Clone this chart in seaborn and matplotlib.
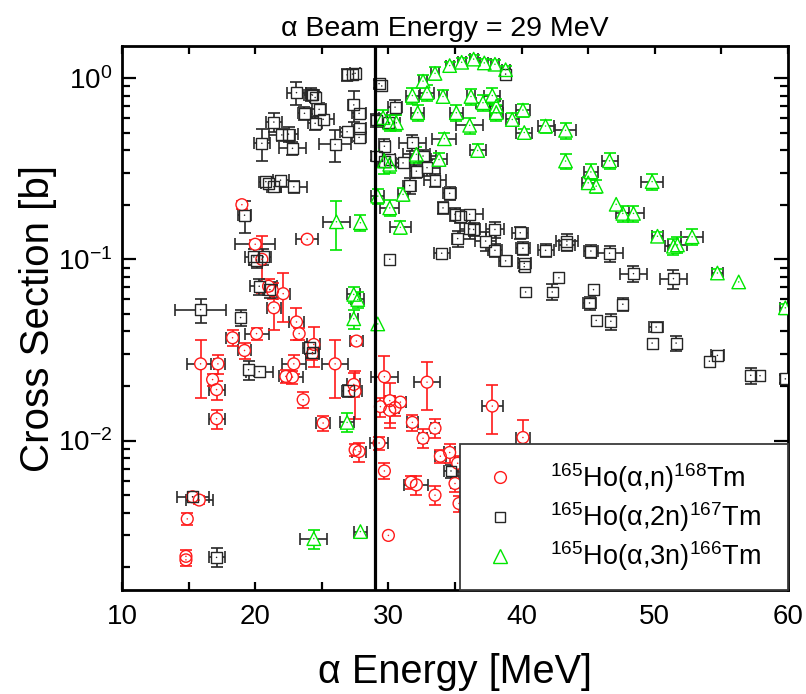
import numpy as np
import pandas as pd
import matplotlib
matplotlib.use("Agg")
import matplotlib.pyplot as plt
import seaborn as sns
from matplotlib.lines import Line2D
from matplotlib.ticker import LogLocator, MultipleLocator, NullFormatter

# ---- 165Ho(alpha,n)168Tm ----
an_energy = [14.8, 14.8, 14.9, 15.3, 15.8, 15.9, 16.8, 17.1, 17.1, 17.2,
             18.3, 19.0, 19.2, 20.0, 20.1, 20.5, 21.0, 21.3, 21.4, 22.1,
             22.3, 22.8, 22.9, 23.1, 23.3, 23.6, 23.9, 24.3, 24.4, 25.1,
             26.0, 27.4, 27.5, 27.5, 27.6, 27.8, 29.3, 29.4, 29.7, 29.7,
             30.0, 30.1, 30.1, 30.5, 30.9, 31.7, 31.8, 32.1, 32.6, 32.9,
             33.5, 33.5, 33.9, 34.6, 35.0, 35.2, 35.3, 35.8, 37.8, 40.1]
an_xs = [0.0023, 0.0022, 0.0037, 0.0049, 0.0047, 0.0265, 0.0217, 0.0191, 0.0132, 0.0265,
         0.0369, 0.20, 0.0314, 0.121, 0.0389, 0.100, 0.071, 0.067, 0.054, 0.0646,
         0.0226, 0.0224, 0.0265, 0.0451, 0.0389, 0.0168, 0.129, 0.0301, 0.0339, 0.0125,
         0.0265, 0.0204, 0.0187, 0.0089, 0.0354, 0.0087, 0.0097, 0.0154, 0.0225, 0.0068,
         0.0030, 0.0166, 0.0147, 0.0152, 0.0163, 0.0059, 0.0126, 0.0057, 0.0103, 0.0210,
         0.0117, 0.0050, 0.0082, 0.0086, 0.0058, 0.0075, 0.0045, 0.0046, 0.0155, 0.0104]
an_d_energy = [0, 0, 0, 0, 1.0, 1.0, 0, 0.6, 0.6, 0.5,
               0.5, 0, 0.5, 1.5, 0.9, 0, 0.6, 0, 0.5, 0.5,
               0.5, 0.8, 0.9, 0.6, 0, 0, 0.8, 0.5, 0.5, 0.5,
               1.0, 0.5, 0.5, 0, 0.5, 0.5, 0.7, 0.3, 1.0, 0,
               0, 0.3, 0, 0.3, 0.4, 0, 0.4, 0.9, 0.3, 1.0,
               0.3, 0, 0.4, 0.4, 0.3, 0, 0, 0, 0.8, 0.5]
an_rel_err = [0.08, 0.08, 0.08, 0.05, 0.05, 0.35, 0.08, 0.12, 0.12, 0.12,
              0.10, 0.05, 0.10, 0.05, 0.08, 0.35, 0.10, 0.10, 0.25, 0.30,
              0.08, 0.08, 0.12, 0.20, 0.08, 0.10, 0.03, 0.08, 0.25, 0.10,
              0.35, 0.15, 0.30, 0.08, 0.05, 0.12, 0.08, 0.12, 0.30, 0.10,
              0, 0.25, 0.20, 0.10, 0.05, 0.08, 0.10, 0.12, 0.12, 0.30,
              0.12, 0.12, 0.08, 0.12, 0.10, 0.10, 0.10, 0.10, 0.30, 0.25]

# ---- 165Ho(alpha,2n)167Tm ----
a2n_energy = [15.3, 15.9, 17.1, 18.9, 19.2, 19.5, 19.9, 20.1, 20.3, 20.3,
              20.5, 20.6, 20.8, 21.0, 21.1, 21.4, 21.4, 21.9, 22.0, 22.5,
              22.8, 22.9, 23.1, 23.7, 24.1, 24.2, 24.3, 24.3, 24.5, 24.5,
              24.8, 25.1, 26.0, 26.9, 26.9, 27.0, 27.3, 27.4, 27.5, 27.8,
              27.8, 27.8, 29.1, 29.1, 29.3, 29.5, 29.7, 29.7, 30.0, 30.1,
              30.1, 30.5, 31.1, 31.6, 31.8, 32.1, 32.6, 32.9, 33.5, 34.0,
              34.1, 34.6, 34.7, 35.0, 35.2, 35.4, 36.1, 36.1, 36.4, 37.3,
              38.0, 38.0, 38.8, 38.8, 39.9, 40.1, 40.2, 40.2, 40.3, 41.8,
              42.3, 42.8, 43.4, 43.4, 45.1, 45.2, 45.4, 45.6, 46.6, 46.7,
              47.6, 48.4, 49.8, 50.1, 51.4, 51.6, 54.1, 54.7, 57.2, 57.9,
              59.8]
a2n_xs = [0.0049, 0.0527, 0.00227, 0.0477, 0.175, 0.0246, 0.103, 0.099, 0.024, 0.071,
          0.436, 0.103, 0.268, 0.262, 0.068, 0.571, 0.251, 0.273, 0.485, 0.49,
          0.409, 0.251, 0.83, 0.638, 0.0325, 0.81, 0.805, 0.0306, 0.78, 0.562,
          0.671, 0.591, 0.43, 0.505, 1.04, 0.0188, 1.05, 0.71, 1.06, 0.638,
          0.527, 0.47, 0.586, 0.371, 0.93, 0.903, 0.42, 0.348, 0.566, 0.10,
          0.357, 0.69, 0.34, 0.255, 0.44, 0.306, 0.371, 0.32, 0.273, 0.108,
          0.192, 0.231, 0.0068, 0.177, 0.13, 0.173, 0.177, 0.147, 0.146, 0.126,
          0.146, 0.112, 0.098, 1.05, 0.14, 0.115, 0.095, 0.091, 0.066, 0.112,
          0.066, 0.079, 0.126, 0.12, 0.0574, 0.111, 0.068, 0.046, 0.108, 0.0455,
          0.0565, 0.0833, 0.0345, 0.0423, 0.0782, 0.0345, 0.0274, 0.0295, 0.0229, 0.0228,
          0.0219]
a2n_d_energy = [1.2, 1.9, 0.6, 0, 0.5, 0.3, 0.7, 0.6, 1.0, 0.7,
                0.6, 0.6, 0.5, 0.6, 0.5, 0.6, 0.5, 0.6, 1.0, 0.7,
                1.0, 1.0, 0.7, 0.5, 0.5, 0.5, 0.5, 0.5, 0.4, 0.5,
                0.5, 0.8, 1.2, 0.5, 0.4, 0.5, 0.4, 0.4, 0.4, 0.5,
                0.5, 0.5, 0.4, 0.4, 0.4, 0.4, 0.4, 0.5, 0.4, 0,
                0.4, 0.5, 0.5, 0.5, 1.0, 0.5, 1.0, 1.0, 0.8, 0.6,
                0.4, 0.5, 0.5, 0.4, 0.4, 0.5, 1.0, 0.7, 0.5, 0.8,
                0.7, 0.5, 0.5, 0.3, 0.6, 0.5, 0.5, 0.3, 0, 0.6,
                0, 0, 0.8, 0.6, 0.5, 0.5, 0, 0, 1.0, 0,
                0, 1.0, 0, 0.5, 1.0, 0, 0, 0.5, 0, 0,
                0.4]
a2n_rel_err = [0.05, 0.15, 0.12, 0.10, 0.20, 0.12, 0.10, 0.10, 0.05, 0.10,
               0.20, 0.10, 0.05, 0.05, 0.10, 0.12, 0.05, 0.05, 0.08, 0.10,
               0.08, 0.08, 0.15, 0.08, 0.08, 0.08, 0.05, 0.05, 0.05, 0.08,
               0.08, 0.05, 0.20, 0.05, 0.08, 0.08, 0.05, 0.20, 0.05, 0.05,
               0.05, 0.05, 0.08, 0.05, 0.05, 0.05, 0.10, 0.05, 0.05, 0,
               0.05, 0.10, 0.05, 0.10, 0.10, 0.08, 0.08, 0.10, 0.08, 0.05,
               0.08, 0.08, 0.08, 0.08, 0.10, 0.08, 0.05, 0.12, 0.08, 0.12,
               0.10, 0.08, 0.05, 0.05, 0.08, 0.08, 0.05, 0.05, 0, 0.08,
               0.10, 0.06, 0.10, 0.08, 0.08, 0.08, 0.06, 0, 0.10, 0.10,
               0.08, 0.10, 0, 0.06, 0.12, 0.10, 0, 0.05, 0.10, 0,
               0.05]

# ---- 165Ho(alpha,3n)166Tm ----
a3n_energy = [24.4, 26.1, 26.9, 27.4, 27.4, 27.7, 27.9, 27.9, 29.2, 29.2,
              29.6, 29.7, 30.1, 30.1, 30.1, 30.6, 30.9, 31.1, 31.8, 32.1,
              32.2, 32.6, 32.9, 33.5, 33.8, 34.1, 34.2, 34.6, 35.1, 35.5,
              36.1, 36.2, 36.4, 36.7, 37.1, 37.2, 37.8, 38.0, 38.1, 38.1,
              38.8, 39.3, 40.1, 40.2, 41.8, 43.3, 43.3, 45.0, 45.2, 45.6,
              46.6, 47.1, 47.6, 48.4, 49.8, 50.2, 51.4, 51.7, 52.8, 54.7,
              56.3, 59.8]
a3n_xs = [0.00288, 0.161, 0.0126, 0.047, 0.064, 0.060, 0.159, 0.00315, 0.044, 0.223,
          0.604, 0.348, 0.566, 0.334, 0.192, 0.566, 0.15, 0.228, 0.80, 0.379,
          0.643, 0.96, 0.83, 1.06, 0.355, 0.79, 0.462, 1.17, 0.643, 1.22,
          0.548, 0.79, 1.27, 0.398, 0.73, 1.21, 0.80, 1.19, 0.70, 0.643,
          1.11, 0.59, 0.665, 0.50, 0.543, 0.514, 0.348, 0.264, 0.303, 0.253,
          0.349, 0.201, 0.179, 0.179, 0.268, 0.134, 0.118, 0.12, 0.133, 0.084,
          0.075, 0.054]
a3n_d_energy = [1.0, 1.0, 0.5, 0.3, 0.5, 0.5, 0, 0.5, 0, 0.5,
                0.3, 0.4, 0.4, 0.4, 0.7, 0.3, 0.8, 0.4, 0.5, 1.0,
                0.5, 0.3, 0.5, 0.3, 0.6, 0.3, 0.9, 0.3, 0.5, 0.3,
                1.0, 0.3, 0.3, 0.6, 0.5, 0.3, 0.6, 0.3, 0.5, 0.5,
                0.3, 0.5, 0.5, 0.6, 0.6, 0.8, 0, 0.5, 0.5, 0,
                0.6, 0, 0.5, 0.8, 0.8, 0.4, 0.6, 0.7, 0.8, 0.4,
                0, 0.4]
a3n_rel_err = [0.12, 0.30, 0.12, 0.12, 0.10, 0.10, 0.10, 0, 0, 0.10,
               0.10, 0.15, 0.10, 0.10, 0.10, 0.10, 0.08, 0.08, 0.10, 0.10,
               0.10, 0.08, 0.10, 0.08, 0.08, 0.08, 0.08, 0.05, 0.10, 0.05,
               0.10, 0.10, 0.05, 0.08, 0.10, 0.05, 0.10, 0.05, 0.10, 0.10,
               0.05, 0.08, 0.08, 0.05, 0.08, 0.10, 0.10, 0.08, 0.10, 0.08,
               0.10, 0, 0.10, 0.10, 0.10, 0.05, 0.10, 0.10, 0.10, 0.05,
               0, 0.05]

reaction_labels = [r"$^{165}$Ho(α,n)$^{168}$Tm",
                   r"$^{165}$Ho(α,2n)$^{167}$Tm",
                   r"$^{165}$Ho(α,3n)$^{166}$Tm"]
beam_energy = 29.0

sns.set_theme(style="ticks")
plt.rcParams["font.family"] = ["Liberation Sans", "DejaVu Sans"]
plt.rcParams["mathtext.fontset"] = "custom"
plt.rcParams["mathtext.rm"] = "Liberation Sans"
plt.rcParams["mathtext.it"] = "Liberation Sans"
plt.rcParams["mathtext.default"] = "regular"
for key in ("text.color", "axes.labelcolor", "xtick.color", "ytick.color",
            "xtick.labelcolor", "ytick.labelcolor"):
    plt.rcParams[key] = "black"

series = [
    dict(E=an_energy, xs=an_xs, dE=an_d_energy, rel=an_rel_err,
         color="#ff1a1a", marker="o", s=72, label=reaction_labels[0]),
    dict(E=a2n_energy, xs=a2n_xs, dE=a2n_d_energy, rel=a2n_rel_err,
         color="#262626", marker="s", s=62, label=reaction_labels[1]),
    dict(E=a3n_energy, xs=a3n_xs, dE=a3n_d_energy, rel=a3n_rel_err,
         color="#00e600", marker="^", s=95, label=reaction_labels[2]),
]

fig = plt.figure(figsize=(8.06, 6.94), dpi=100)
ax = fig.add_axes([122 / 806, 1 - 590 / 694, 666 / 806, 544 / 694])
ax.set_xscale("linear")
ax.set_yscale("log")

bar_kw = dict(fmt="none", elinewidth=1.2, capsize=4, capthick=1.2, zorder=2)
for sr in series:
    df = pd.DataFrame({"energy": sr["E"], "xs": sr["xs"],
                       "dE": sr["dE"], "rel": sr["rel"]})
    hx = df[df["dE"] > 0]
    ax.errorbar(hx["energy"], hx["xs"], xerr=hx["dE"], ecolor="#2a2a2a", **bar_kw)
    vy = df[df["rel"] > 0]
    ax.errorbar(vy["energy"], vy["xs"], yerr=vy["rel"] * vy["xs"], ecolor=sr["color"], **bar_kw)

# white interiors hide the bars inside each symbol
for sr in series:
    df = pd.DataFrame({"energy": sr["E"], "xs": sr["xs"]})
    sns.scatterplot(data=df, x="energy", y="xs", ax=ax, marker=sr["marker"], s=sr["s"],
                    color="white", facecolors="white", edgecolor="none", linewidth=0,
                    zorder=3, legend=False)

# hollow symbols with a small centre dot
for sr in series:
    df = pd.DataFrame({"energy": sr["E"], "xs": sr["xs"]})
    sns.scatterplot(data=df, x="energy", y="xs", ax=ax, marker=sr["marker"], s=sr["s"],
                    color=sr["color"], facecolors="none", edgecolor=sr["color"],
                    linewidth=1.0, zorder=4, legend=False)
    sns.scatterplot(data=df, x="energy", y="xs", ax=ax, marker="o", s=1.2,
                    color=sr["color"], edgecolor="none", linewidth=0, zorder=5,
                    legend=False)

ax.axvline(beam_energy, color="black", lw=2.3, zorder=6)

ax.set_xlim(10, 60)
ax.set_ylim(0.0015, 1.5)
ax.xaxis.set_major_locator(MultipleLocator(10))
ax.xaxis.set_minor_locator(MultipleLocator(5))
ax.yaxis.set_major_locator(LogLocator(base=10))
ax.yaxis.set_minor_locator(LogLocator(base=10, subs=np.arange(2, 10)))
ax.yaxis.set_minor_formatter(NullFormatter())

ax.tick_params(which="both", direction="in", top=True, right=True,
               color="black", width=1.6)
ax.tick_params(axis="x", which="both", length=6, labelsize=20, pad=10)
ax.tick_params(axis="y", which="major", length=10, labelsize=20, pad=7)
ax.tick_params(axis="y", which="minor", length=6)
for sp in ax.spines.values():
    sp.set_linewidth(2.0)
    sp.set_color("black")

ax.set_xlabel("α Energy [MeV]", fontsize=28.5)
ax.set_ylabel("Cross Section [b]", fontsize=29)
ax.xaxis.set_label_coords(0.5, -0.115)
ax.yaxis.set_label_coords(-0.098, 0.5)
ax.set_title("α Beam Energy = 29 MeV", fontsize=20.5, x=0.485, pad=7)

handles = [Line2D([], [], ls="none", marker=sr["marker"], mfc="none",
                  mec=sr["color"], ms=np.sqrt(sr["s"]), mew=1.0) for sr in series]
leg = ax.legend(handles, reaction_labels, loc="lower left",
                bbox_to_anchor=(0.5075, 0.0, 0.4925, 0.276), mode="expand",
                borderaxespad=0, fontsize=19.5, frameon=True, fancybox=False,
                framealpha=1.0, borderpad=0.62, handlelength=1.7, handletextpad=1.0,
                labelspacing=0.2)
leg.get_frame().set_edgecolor("#3a3a3a")
leg.get_frame().set_linewidth(1.3)
leg.set_zorder(10)

fig.savefig("out.png", dpi=100)
